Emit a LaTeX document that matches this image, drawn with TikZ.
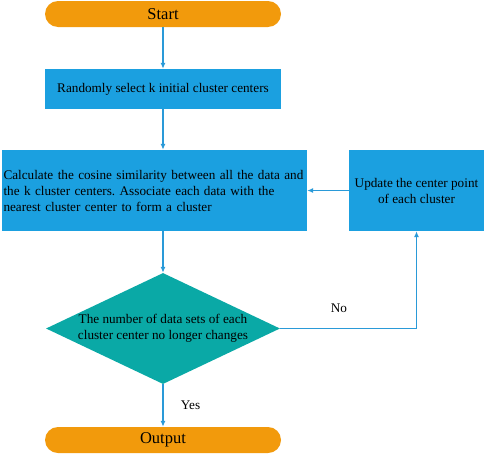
\documentclass[tikz,border=0pt]{standalone}
\usepackage{fontspec}
\setmainfont{Liberation Serif}
\usetikzlibrary{arrows,arrows.meta}
\usetikzlibrary{calc,shapes,shapes.geometric}
\definecolor{termorange}{HTML}{F29A0C}
\definecolor{procblue}{HTML}{1BA0E0}
\definecolor{decteal}{HTML}{0AA9A6}
\definecolor{flowblue}{HTML}{2A9AD8}
\frenchspacing
\tikzset{>=latex}
\tikzstyle{terminal} = [%
					fill = termorange,
					rounded corners = 13pt,
					minimum width = 236pt,
					minimum height = 26pt,
					font = \fontsize{16.5}{19}\selectfont]
\tikzstyle{process} = [%
					fill = procblue,
					inner sep = 0pt,
					font = \fontsize{13.2}{16}\selectfont]
\tikzstyle{decision} = [%
					diamond,
					fill = decteal,
					aspect = 2.1,
					inner sep = 0pt,
					minimum width = 234pt,
					minimum height = 111pt,
					align = center,
					font = \fontsize{13.2}{16}\selectfont]
\tikzstyle{flow} = [%
					line width = 1.2,
					color = flowblue,
					-{Latex[length=6pt,width=5pt]}]

\begin{document}
\begin{tikzpicture}[x=1pt,y=-1pt]

	\useasboundingbox (0,0) rectangle (484,455);

	% Terminals
	\node (start)  [terminal] at (163,14) {Start};
	\node (output) [terminal] at (163,440) {Output};

	% Processes
	\node (select) [process, minimum width=236pt, minimum height=40pt] at (163,89) {Randomly select k initial cluster centers};
	\node (calc)   [process, minimum width=305pt, minimum height=81pt, text width=302pt, align=left] at (154.5,190.5)
		{Calculate the cosine similarity between all the data and\\the k cluster centers. Associate each data with the\\nearest cluster center to form a cluster};
	\node (update) [process, minimum width=135pt, minimum height=81pt, align=center] at (416.5,190.5)
		{Update the center point\\of each cluster};

	% Decision
	\node (check) [decision] at (163,328.5) {The number of data sets of each\\cluster center no longer changes};

	% Corner
	\coordinate (turn) at (update.south |- check.east);

	% Arrows
	\draw[flow] (start) -- (select);
	\draw[flow] (select) -- (select |- calc.north);
	\draw[flow] (update) -- (calc);
	\draw[flow] (select |- calc.south) -- (check);
	\draw[flow] (check) -- (output) node[midway, right, xshift=14pt, black, font=\fontsize{13.2}{14}\selectfont] {Yes};
	\draw[flow] (check.east) -- (turn) -- (update.south);
	\node (no) [font=\fontsize{13.2}{14}\selectfont] at (339,308) {No};

\end{tikzpicture}
\end{document}
